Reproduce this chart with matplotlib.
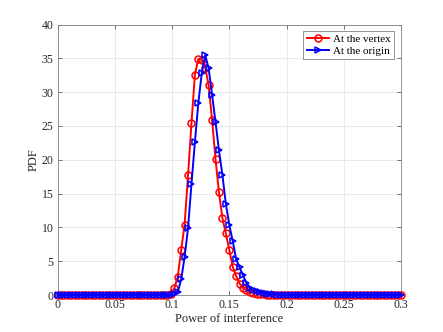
import numpy as np
import matplotlib
matplotlib.use('Agg')
import matplotlib.pyplot as plt

# sample grid: 0 to 0.3 step 0.003 (101 points)
x = np.linspace(0, 0.3, 101)

# non-zero part of each curve, starting at index 33 / 34
vertex_start = 33
vertex_vals = [0.1, 1.0, 2.7, 6.6, 10.4, 17.7, 25.4, 32.6, 34.9, 34.8, 33.6,
               31.0, 25.9, 20.1, 15.2, 11.4, 9.1, 6.7, 4.2, 2.8, 1.7, 1.1,
               0.7, 0.45, 0.3, 0.2, 0.12, 0.08, 0.05, 0.03]
origin_start = 34
origin_vals = [0.1, 0.4, 2.3, 5.6, 9.9, 16.4, 22.6, 28.4, 32.8, 35.5, 33.5,
               29.6, 25.6, 21.4, 17.8, 13.5, 10.4, 8.0, 5.3, 4.1, 2.9, 1.8,
               1.1, 0.8, 0.6, 0.4, 0.3, 0.2, 0.15, 0.1, 0.07, 0.05, 0.03]

pdf_vertex = np.zeros(len(x))
pdf_vertex[vertex_start:vertex_start + len(vertex_vals)] = vertex_vals
pdf_origin = np.zeros(len(x))
pdf_origin[origin_start:origin_start + len(origin_vals)] = origin_vals

plt.rcParams['font.family'] = ['Liberation Serif', 'DejaVu Serif']

fig = plt.figure(figsize=(4.43, 3.32), dpi=100)
ax = fig.add_axes([57.5 / 443, 1 - 295 / 332, (401 - 57.5) / 443, (295 - 24.5) / 332])

ax.plot(x, pdf_vertex, color='#ff0000', lw=1.4, marker='o', ms=5,
        mfc='none', mew=1.1, label='At the vertex', clip_on=False, zorder=3)
ax.plot(x, pdf_origin, color='#0000ff', lw=1.4, marker='>', ms=5,
        mfc='none', mew=1.1, label='At the origin', clip_on=False, zorder=4)

ax.set_xlim(0, 0.3)
ax.set_ylim(0, 40)
ax.set_xticks([0, 0.05, 0.1, 0.15, 0.2, 0.25, 0.3])
ax.set_xticklabels(['0', '0.05', '0.1', '0.15', '0.2', '0.25', '0.3'])
ax.set_yticks(range(0, 41, 5))
ax.grid(True, color='#e6e6e6', lw=0.6)
ax.set_axisbelow(True)
for s in ax.spines.values():
    s.set_color('#808080')
    s.set_linewidth(0.6)
ax.tick_params(direction='in', length=3, width=0.5, color='#404040',
               labelsize=8.5, labelcolor='#262626', top=True, right=True, pad=3)
ax.set_xlabel('Power of interference', fontsize=9, color='#262626', labelpad=1)
ax.set_ylabel('PDF', fontsize=9, color='#262626', labelpad=1)

leg = ax.legend(loc='upper right', fontsize=8, fancybox=False, framealpha=1,
                edgecolor='#808080', handlelength=2.0, borderpad=0.3,
                labelspacing=0.15, handletextpad=0.4, borderaxespad=0.6)
leg.get_frame().set_linewidth(0.6)
leg.set_zorder(5)

fig.savefig('out.png', dpi=100)
